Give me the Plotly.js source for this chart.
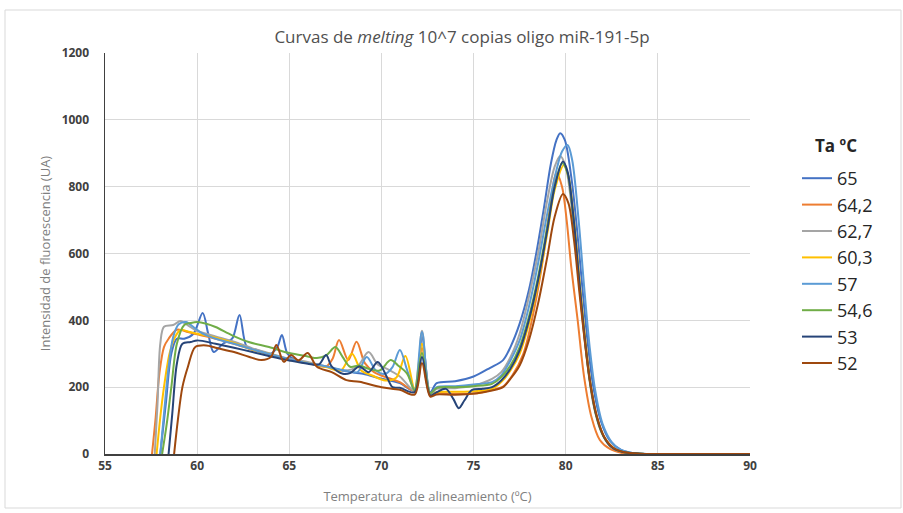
<!DOCTYPE html>
<html>
<head>
<meta charset="utf-8">
<script src="https://cdn.plot.ly/plotly-3.0.1.min.js"></script>
<style>html,body{margin:0;padding:0;background:#fff;}#chart{width:903px;height:513px;}</style>
</head>
<body>
<div id="chart"></div>
<script>
// Legend labels (annealing temperatures)
const seriesNames = ['65', '64,2', '62,7', '60,3', '57', '54,6', '53', '52'];

// Temperature (x) and fluorescence (y) readings per series
const t65 = [58.0, 58.3, 58.6, 58.9, 59.3, 59.8, 60.3, 60.6, 60.9, 61.4, 61.9, 62.3, 62.7, 63.2, 64.0, 64.35, 64.6, 64.9, 65.3, 66.0, 67.0, 68.0, 69.0, 70.0, 71.0, 71.8, 72.2, 72.65, 73.0, 74.0, 75.0, 75.9, 76.6, 77.0, 77.5, 78.0, 78.4, 78.8, 79.2, 79.5, 79.7, 79.95, 80.3, 80.6, 80.9, 81.2, 81.5, 81.9, 82.4, 83.0, 83.6, 84.5, 90.0];
const f65 = [0, 150, 300, 345, 345, 360, 422, 360, 305, 330, 345, 416, 320, 312, 300, 320, 356, 300, 282, 272, 262, 248, 240, 225, 212, 190, 350, 185, 212, 218, 232, 258, 281, 320, 390, 490, 600, 730, 870, 940, 960, 940, 830, 680, 500, 330, 200, 100, 40, 12, 3, 0, 0];

const t642 = [57.55, 57.75, 57.95, 58.2, 58.45, 58.9, 59.5, 60.0, 61.0, 62.0, 63.0, 64.0, 65.0, 66.0, 67.0, 67.35, 67.7, 68.2, 68.65, 69.1, 69.6, 70.0, 71.0, 71.8, 72.2, 72.65, 73.0, 74.0, 75.2, 76.0, 76.6, 77.1, 77.7, 78.2, 78.7, 79.1, 79.5, 79.8, 80.05, 80.3, 80.65, 81.0, 81.4, 81.85, 82.4, 83.0, 83.8, 90.0];
const f642 = [0, 110, 240, 320, 345, 372, 365, 358, 345, 330, 312, 298, 283, 272, 262, 285, 341, 281, 336, 272, 245, 235, 215, 190, 317, 178, 182, 180, 182, 192, 202, 235, 300, 410, 560, 720, 840, 800, 700, 560, 400, 230, 110, 42, 15, 4, 0, 0];

const t627 = [57.7, 57.85, 58.0, 58.2, 58.7, 59.1, 59.5, 60.0, 61.0, 62.0, 63.0, 64.0, 65.0, 66.0, 67.0, 68.0, 68.7, 69.3, 69.8, 70.3, 71.0, 71.8, 72.2, 72.65, 73.0, 74.0, 75.0, 76.0, 76.5, 77.0, 77.5, 78.0, 78.5, 79.0, 79.4, 79.7, 80.0, 80.3, 80.6, 80.9, 81.2, 81.5, 81.9, 82.4, 83.0, 83.6, 84.5, 90.0];
const f627 = [0, 150, 330, 381, 386, 398, 385, 368, 352, 336, 316, 300, 285, 275, 262, 250, 262, 305, 268, 255, 232, 190, 369, 180, 195, 197, 205, 225, 245, 290, 360, 470, 600, 760, 860, 892, 860, 750, 590, 410, 260, 150, 70, 25, 8, 2, 0, 0];

const t603 = [57.8, 58.0, 58.2, 58.5, 58.8, 59.1, 59.6, 60.0, 61.0, 62.0, 63.0, 64.0, 65.0, 66.0, 67.0, 67.8, 68.4, 68.9, 69.5, 70.2, 70.8, 71.3, 71.8, 72.2, 72.65, 73.0, 74.0, 75.0, 76.0, 76.5, 77.0, 77.5, 78.0, 78.5, 79.0, 79.4, 79.9, 80.15, 80.45, 80.75, 81.05, 81.35, 81.7, 82.1, 82.6, 83.2, 84.0, 85.0, 90.0];
const f603 = [0, 110, 200, 300, 350, 371, 365, 360, 348, 332, 312, 298, 282, 272, 260, 250, 300, 250, 235, 220, 228, 293, 195, 330, 178, 185, 186, 188, 195, 215, 250, 300, 390, 510, 660, 790, 865, 830, 700, 520, 350, 210, 110, 50, 18, 5, 1, 0, 0];

const t57 = [58.0, 58.2, 58.45, 58.7, 59.0, 59.4, 59.8, 60.3, 61.0, 62.0, 63.0, 64.0, 65.0, 66.0, 67.0, 68.0, 68.7, 69.2, 69.7, 70.2, 70.6, 71.0, 71.4, 71.8, 72.2, 72.65, 73.0, 74.0, 75.0, 76.0, 76.5, 77.0, 77.5, 78.0, 78.5, 79.0, 79.5, 79.8, 80.1, 80.35, 80.7, 81.0, 81.3, 81.6, 82.0, 82.5, 83.0, 83.6, 84.5, 90.0];
const f57 = [0, 120, 260, 350, 388, 395, 380, 360, 345, 330, 313, 298, 284, 272, 262, 250, 245, 290, 250, 240, 260, 311, 250, 192, 365, 180, 200, 203, 208, 215, 235, 280, 340, 440, 570, 720, 850, 905, 925, 880, 700, 500, 320, 190, 90, 35, 12, 3, 0, 0];

const t546 = [58.1, 58.35, 58.6, 58.9, 59.3, 59.65, 60.0, 60.5, 61.0, 61.9, 62.8, 63.9, 65.0, 66.0, 66.5, 67.0, 67.5, 67.9, 68.3, 68.8, 69.3, 69.9, 70.5, 70.9, 71.4, 71.8, 72.2, 72.65, 73.0, 74.0, 75.0, 76.0, 76.5, 77.0, 77.5, 78.0, 78.5, 79.0, 79.4, 79.8, 80.1, 80.4, 80.7, 81.0, 81.3, 81.65, 82.05, 82.5, 83.1, 84.0, 85.0, 90.0];
const f546 = [0, 90, 200, 330, 386, 392, 395, 390, 380, 355, 335, 320, 302, 292, 287, 295, 320, 290, 261, 265, 255, 250, 281, 265, 240, 190, 302, 182, 198, 200, 203, 210, 230, 265, 320, 410, 530, 680, 800, 870, 840, 710, 530, 360, 220, 115, 52, 20, 6, 1, 0, 0];

const t53 = [58.45, 58.65, 58.9, 59.2, 59.65, 60.0, 61.0, 62.0, 63.0, 64.0, 65.0, 66.0, 66.6, 67.0, 67.3, 67.9, 68.3, 68.8, 69.3, 69.8, 70.3, 70.6, 71.0, 71.8, 72.2, 72.65, 73.0, 73.5, 73.9, 74.2, 74.5, 74.9, 75.5, 76.0, 76.5, 77.0, 77.5, 78.0, 78.5, 79.0, 79.4, 79.85, 80.1, 80.4, 80.7, 81.0, 81.3, 81.65, 82.05, 82.5, 83.1, 84.0, 85.0, 90.0];
const f53 = [0, 120, 270, 330, 335, 340, 330, 318, 305, 292, 280, 270, 268, 296, 262, 240, 242, 262, 245, 275, 230, 200, 198, 185, 290, 175, 185, 195, 165, 137, 160, 191, 195, 200, 220, 255, 310, 400, 520, 670, 800, 875, 845, 720, 540, 365, 225, 118, 54, 20, 6, 1, 0, 0];

const t52 = [58.75, 58.95, 59.2, 59.5, 59.9, 60.5, 61.0, 62.0, 62.8, 63.5, 64.0, 64.3, 64.7, 65.1, 65.5, 66.0, 66.5, 67.3, 68.1, 68.8, 70.0, 71.0, 71.8, 72.2, 72.65, 73.0, 74.0, 75.2, 76.0, 76.6, 77.0, 77.5, 78.0, 78.5, 79.0, 79.4, 79.85, 80.15, 80.45, 80.75, 81.05, 81.35, 81.7, 82.1, 82.6, 83.2, 84.0, 85.0, 90.0];
const f52 = [0, 100, 200, 261, 320, 325, 318, 305, 291, 281, 290, 326, 276, 296, 280, 302, 261, 245, 221, 216, 200, 192, 178, 272, 172, 178, 177, 182, 190, 200, 225, 265, 340, 450, 590, 710, 778, 750, 640, 480, 330, 205, 110, 50, 18, 5, 1, 0, 0];

const xSets = [t65, t642, t627, t603, t57, t546, t53, t52];
const ySets = [f65, f642, f627, f603, f57, f546, f53, f52];

// Styling
const lineColors = ['#4472C4', '#ED7D31', '#A5A5A5', '#FFC000', '#5B9BD5', '#70AD47', '#264478', '#9E480E'];

const traces = seriesNames.map((name, i) => ({
  type: 'scatter',
  mode: 'lines',
  name: name,
  x: xSets[i],
  y: ySets[i],
  line: {color: lineColors[i], width: 2, shape: 'spline', smoothing: 0.9}
}));

const L = 105, R = 750, T = 53, B = 454;
const W = 903, H = 513;
const px2x = p => (p - L) / (R - L);
const px2y = p => (B - p) / (B - T);

const layout = {
  width: W, height: H,
  margin: {l: L, r: W - R, t: T, b: H - B, pad: 0},
  paper_bgcolor: '#ffffff',
  plot_bgcolor: '#ffffff',
  font: {family: 'Open Sans, sans-serif', color: '#404040'},
  title: {
    text: 'Curvas de <i>melting</i> 10^7 copias oligo miR-191-5p',
    font: {family: 'Open Sans, sans-serif', size: 17, color: '#505050'},
    x: px2x(462), xref: 'paper', xanchor: 'center',
    y: 1 - 37 / H, yref: 'container', yanchor: 'middle'
  },
  xaxis: {
    range: [55, 90], dtick: 5, tick0: 55,
    showgrid: true, gridcolor: '#d9d9d9', gridwidth: 1,
    showline: true, linecolor: '#404040', linewidth: 1.5,
    zeroline: false, ticks: '',
    tickfont: {size: 12, color: '#404040', weight: 'bold'},
    title: {text: 'Temperatura  de alineamiento (ºC)', font: {size: 13, color: '#7f7f7f'}, standoff: 19}
  },
  yaxis: {
    range: [0, 1200], dtick: 200, tick0: 0,
    showgrid: true, gridcolor: '#d9d9d9', gridwidth: 1,
    showline: true, linecolor: '#404040', linewidth: 1.5,
    zeroline: false, ticks: '',
    tickfont: {size: 12, color: '#404040', weight: 'bold'},
    ticklabelstandoff: 12,
    title: {text: 'Intensidad de fluorescencia (UA)', font: {size: 13, color: '#7f7f7f'}, standoff: 8}
  },
  legend: {
    x: px2x(797), y: px2y(160), xanchor: 'left', yanchor: 'top',
    font: {size: 18, color: '#262626'},
    bgcolor: 'rgba(0,0,0,0)'
  },
  annotations: [{
    text: '<b>Ta ºC</b>', xref: 'paper', yref: 'paper',
    x: px2x(836), y: px2y(145), xanchor: 'center', yanchor: 'middle',
    showarrow: false, font: {size: 17, color: '#262626'}
  }],
  shapes: [{
    type: 'rect', xref: 'paper', yref: 'paper',
    x0: px2x(5), x1: px2x(901), y0: px2y(508), y1: px2y(10),
    line: {color: '#d9d9d9', width: 1}, fillcolor: 'rgba(0,0,0,0)', layer: 'below'
  }]
};

Plotly.newPlot('chart', traces, layout, {displayModeBar: false, staticPlot: true});
</script>
</body>
</html>
